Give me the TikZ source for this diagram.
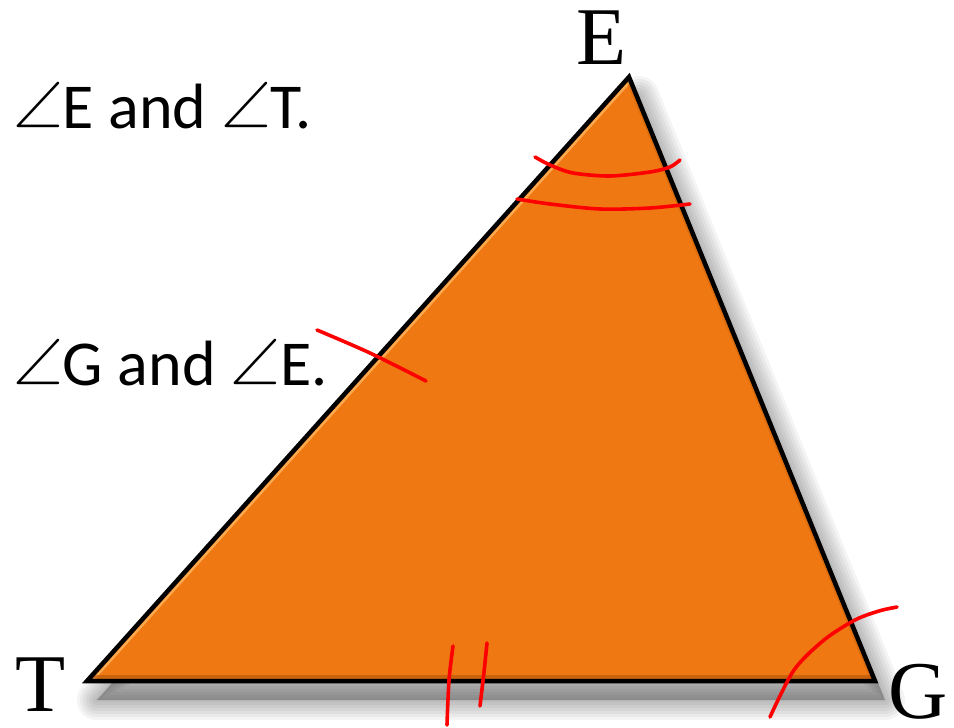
\documentclass[tikz,border=0pt]{standalone}
\usepackage{fontspec}
\setmainfont{Liberation Serif}
\newfontfamily\calib{Carlito}
\newfontfamily\lmm{Latin Modern Math}
\definecolor{tri}{RGB}{240,120,18}
\definecolor{trilight}{RGB}{252,170,80}
\definecolor{tridark}{RGB}{175,85,10}
\begin{document}
\begin{tikzpicture}[x=1pt,y=-1pt,
  redmark/.style={draw=red, line width=3.6pt, line cap=round, line join=round},
  vlabel/.style={font=\fontsize{82}{82}\selectfont, inner sep=0pt, anchor=base, text height=54pt, text depth=0pt},
  anglabel/.style={font=\calib\fontsize{64}{64}\selectfont, inner sep=0pt, anchor=base west}]
\useasboundingbox (0,0) rectangle (954,728);
\coordinate (E) at (629,77);
\coordinate (T) at (87,681);
\coordinate (G) at (875,681);
% soft shadow
\foreach \w in {40,34,28,22,16,10,4}{
  \filldraw[black, opacity=0.045, line width=\w pt, line join=round]
    ([shift={(10,19)}]E) -- ([shift={(10,19)}]T) -- ([shift={(10,19)}]G) -- cycle;
}
% triangle with bevel
\fill[tri] (E) -- (T) -- (G) -- cycle;
\begin{scope}
  \clip (E) -- (T) -- (G) -- cycle;
  \draw[trilight, line width=10pt] (T) -- (E);
  \draw[tri, line width=5pt] (T) -- (E);
  \draw[tridark, opacity=0.6, line width=12pt] (T) -- (G);
  \draw[tridark, opacity=0.3, line width=8pt] (E) -- (G);
\end{scope}
\draw[black, line width=4.5pt, line join=miter] (E) -- (T) -- (G) -- cycle;
% vertex labels
\node[vlabel] (lE) at (602,64) {E};
\node[vlabel] (lT) at (41,711) {T};
\node[vlabel] (lG) at (918,718) {G};
% texts
\node[anglabel] (t1) at (13,128) {{\lmm ∠}E and {\lmm ∠}T.};
\node[anglabel] (t2) at (13,385) {{\lmm ∠}G and {\lmm ∠}E.};
% red marks
\draw[redmark] plot[smooth] coordinates {(535,157) (550,165) (573,173) (610,176) (650,172) (670,167) (680,160)};
\draw[redmark] plot[smooth] coordinates {(517,199) (550,204) (600,209) (650,208) (690,204)};
\draw[redmark] plot[smooth] coordinates {(317,330) (370,353) (426,381)};
\draw[redmark] plot[smooth] coordinates {(453,646) (449,680) (447,725)};
\draw[redmark] plot[smooth] coordinates {(487,643) (484,672) (480,706)};
\draw[redmark] plot[smooth] coordinates {(897,607) (879,611) (855,620) (824,640) (794,670) (770,717)};
\end{tikzpicture}
\end{document}
